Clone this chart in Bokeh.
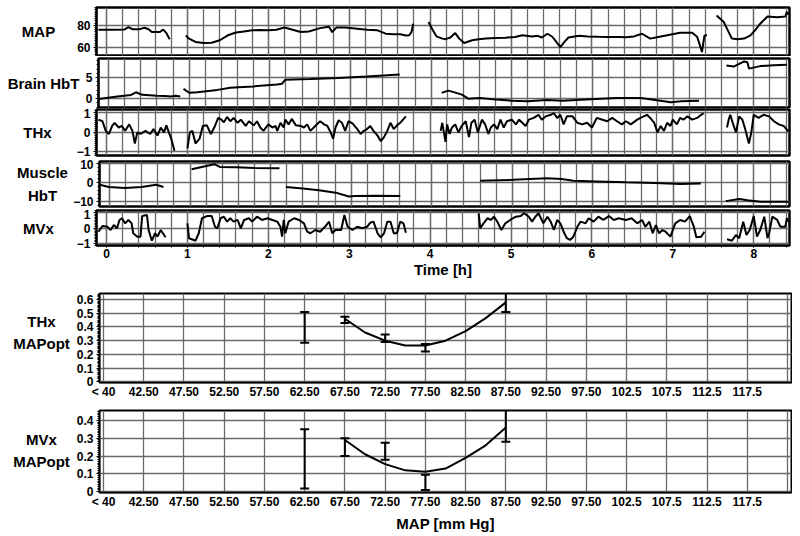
import numpy as np
from bokeh.plotting import figure
from bokeh.layouts import column, row
from bokeh.models import FixedTicker, Range1d
from bokeh.core.properties import value
from bokeh.embed import file_html
from bokeh.resources import INLINE

N = float("nan")

# ---------------- time series (time in h) ----------------
map_t = [-0.10, 0.10, 0.22, 0.27, 0.32, 0.40, 0.47, 0.52, 0.56, 0.66, 0.70, 0.74, 0.78, N,
         0.98, 1.02, 1.10, 1.20, 1.30, 1.40, 1.50, 1.60, 1.70, 1.80, 1.90, 2.00, 2.10, 2.20, 2.30, 2.40,
         2.50, 2.64, 2.75, 2.79, 2.84, 2.95, 3.10, 3.22, 3.35, 3.45, 3.55, 3.63, 3.70, 3.74, 3.77, 3.79, N,
         3.98, 4.03, 4.08, 4.15, 4.19, 4.25, 4.31, 4.36, 4.42, 4.52, 4.60, 4.69, 4.80, 4.93, 5.05, 5.14,
         5.26, 5.33, 5.38, 5.45, 5.51, 5.56, 5.61, 5.66, 5.71, 5.84, 5.95, 6.08, 6.20, 6.35, 6.42, 6.52,
         6.62, 6.72, 6.82, 6.93, 7.09, 7.24, 7.30, 7.33, 7.36, 7.39, 7.42, N,
         7.54, 7.63, 7.73, 7.80, 7.88, 7.96, 8.02, 8.08, 8.17, 8.29, 8.39, 8.41, 8.43]
map_v = [76.1, 76.0, 76.2, 78.5, 76.5, 76.4, 77.8, 76.5, 74.0, 74.0, 76.2, 73.0, 67.5, N,
         70.9, 68.0, 65.0, 64.0, 64.2, 66.5, 71.0, 73.5, 74.5, 75.5, 75.8, 75.5, 76.0, 78.0, 76.0, 74.0,
         74.5, 77.5, 78.8, 73.8, 78.0, 78.0, 77.0, 76.0, 75.5, 72.5, 72.0, 72.0, 70.8, 71.0, 74.0, 81.5, N,
         83.0, 76.0, 70.0, 68.0, 67.5, 69.0, 73.0, 68.0, 64.0, 66.5, 67.5, 68.0, 68.5, 68.8, 69.5, 71.0,
         70.0, 70.5, 69.0, 72.4, 69.7, 65.0, 60.3, 65.0, 69.0, 70.5, 70.0, 69.7, 69.5, 69.5, 69.3, 70.0,
         72.4, 68.0, 69.5, 71.0, 73.4, 73.4, 69.7, 63.0, 55.8, 70.5, 71.5, N,
         89.0, 83.0, 68.0, 67.5, 68.0, 71.0, 76.0, 81.5, 88.0, 87.3, 88.0, 92.0, 90.0]

brain_t = [-0.12, 0.11, 0.28, 0.34, 0.42, 0.60, 0.70, 0.77, 0.83, 0.89, N,
           0.93, 1.00, 1.10, 1.35, 1.51, 1.61, 1.80, 2.09, 2.15, 2.19, 2.50, 2.85, 3.20, 3.61, N,
           4.13, 4.21, 4.27, 4.38, 4.46, 4.60, 4.80, 5.01, 5.20, 5.43, 5.63, 5.80, 6.04, 6.30, 6.52, 6.60,
           6.80, 6.97, 7.10, 7.32, N,
           7.66, 7.75, 7.88, 7.92, 7.94, 8.08, 8.25, 8.41]
brain_v = [-0.07, 0.48, 0.87, 1.5, 0.9, 0.7, 0.6, 0.48, 0.7, 0.5, N,
           2.3, 1.4, 1.5, 2.07, 2.55, 2.7, 2.9, 3.35, 3.5, 4.45, 4.65, 4.9, 5.25, 5.7, N,
           1.35, 1.9, 1.6, 0.95, 0.0, 0.17, -0.2, -0.5, -0.6, -0.35, -0.5, -0.3, -0.07, 0.15, 0.17, 0.15,
           -0.4, -0.85, -0.6, -0.5, N,
           7.86, 7.6, 8.8, 8.6, 7.1, 7.7, 7.9, 8.0]

thx_t = [-0.10, -0.05, -0.01, 0.03, 0.07, 0.10, 0.15, 0.19, 0.23, 0.28, 0.32, 0.35, 0.38, 0.42, 0.48,
         0.54, 0.58, 0.63, 0.67, 0.71, 0.74, 0.77, 0.80, 0.84, N,
         1.00, 1.03, 1.06, 1.10, 1.15, 1.19, 1.24, 1.29, 1.34, 1.38, 1.42, 1.45, 1.49, 1.53, 1.57, 1.62,
         1.66, 1.72, 1.76, 1.82, 1.86, 1.90, 1.94, 2.00, 2.05, 2.09, 2.11, 2.15, 2.19, 2.21, 2.25, 2.29,
         2.34, 2.40, 2.44, 2.48, 2.52, 2.58, 2.64, 2.69, 2.73, 2.77, 2.80, 2.83, 2.87, 2.91, 2.95, 2.99,
         3.04, 3.10, 3.14, 3.18, 3.22, 3.26, 3.30, 3.35, 3.39, 3.43, 3.47, 3.51, 3.55, 3.59, 3.63, 3.70, N,
         4.13, 4.15, 4.19, 4.21, 4.24, 4.27, 4.31, 4.35, 4.39, 4.44, 4.48, 4.51, 4.55, 4.59, 4.64, 4.68,
         4.72, 4.75, 4.79, 4.83, 4.87, 4.91, 4.95, 5.01, 5.06, 5.10, 5.14, 5.18, 5.22, 5.28, 5.34, 5.38,
         5.43, 5.49, 5.53, 5.57, 5.61, 5.65, 5.69, 5.76, 5.82, 5.88, 5.94, 6.00, 6.06, 6.13, 6.19, 6.25,
         6.31, 6.37, 6.42, 6.48, 6.56, 6.60, 6.64, 6.68, 6.72, 6.77, 6.81, 6.85, 6.89, 6.93, 6.97, 7.00,
         7.05, 7.09, 7.13, 7.18, 7.24, 7.30, 7.35, 7.38, N,
         7.67, 7.69, 7.71, 7.74, 7.78, 7.82, 7.86, 7.90, 7.94, 7.97, 8.00, 8.06, 8.12, 8.19, 8.25, 8.31,
         8.37, 8.43]
thx_v = [0.63, 0.55, 0.06, -0.10, 0.31, 0.47, 0.23, 0.31, 0.06, 0.39, 0.06, -0.59, -0.02, -0.10, 0.06,
         -0.10, 0.15, -0.18, 0.23, -0.02, 0.34, -0.02, -0.34, -0.96, N,
         -0.83, -0.02, 0.06, -0.59, -0.34, 0.31, 0.34, -0.10, 0.31, 0.72, 0.63, 0.50, 0.77, 0.55, 0.72, 0.47,
         0.63, 0.31, 0.55, 0.34, 0.55, 0.23, 0.06, 0.39, 0.23, 0.31, 0.06, 0.47, 0.23, 0.63, 0.39, 0.67,
         0.34, 0.31, 0.23, 0.39, 0.06, 0.31, 0.55, 0.39, 0.31, -0.02, -0.34, 0.23, 0.60, 0.47, 0.06, 0.55,
         0.44, 0.15, -0.10, 0.06, 0.15, 0.31, 0.06, -0.18, -0.47, -0.26, 0.06, 0.47, 0.15, 0.34, 0.47, 0.80, N,
         0.06, 0.47, -0.50, 0.39, -0.10, 0.23, 0.39, -0.02, 0.31, 0.55, -0.26, 0.47, 0.63, -0.02, 0.63, 0.39,
         -0.10, 0.23, 0.39, 0.15, 0.63, 0.23, 0.55, 0.63, 0.39, 0.63, 0.47, 0.31, 0.63, 0.72, 0.88, 0.63,
         0.80, 0.88, 0.96, 0.72, 0.88, 0.39, 0.80, 0.80, 0.47, 0.39, 0.47, 0.23, 0.72, 0.63, 0.55, 0.72,
         0.55, 0.39, 0.55, 0.39, 0.63, 0.72, 0.80, 0.88, 0.72, 0.47, -0.02, 0.31, 0.06, 0.47, 0.31, 0.63,
         0.39, 0.72, 0.63, 0.80, 0.63, 0.72, 0.88, 0.96, N,
         0.23, 0.63, 0.88, 0.47, -0.02, 0.80, 0.63, 0.06, -0.59, -0.02, 0.88, 0.72, 0.88, 0.80, 0.55, 0.39,
         0.31, 0.02]

muscle_t = [-0.12, -0.01, 0.19, 0.40, 0.58, 0.67, N,
            1.02, 1.16, 1.30, 1.37, 1.57, 1.80, 2.11, N,
            2.19, 2.40, 2.60, 2.81, 2.97, 3.05, 3.30, 3.61, N,
            4.60, 5.01, 5.43, 5.61, 5.76, 6.04, 6.42, 6.77, 7.09, 7.34, N,
            7.65, 7.82, 7.92, 8.08, 8.43]
muscle_v = [-1.1, -2.3, -2.8, -2.3, -1.1, -2.3, N,
            7.0, 8.3, 9.6, 8.2, 8.0, 7.6, 7.5, N,
            -2.3, -3.1, -3.9, -5.2, -7.2, -6.9, -6.8, -7.0, N,
            1.0, 1.46, 2.3, 1.9, 1.0, 0.65, 0.16, -0.2, -0.65, -0.5, N,
            -9.6, -8.5, -9.2, -9.9, -9.9]

mvx_t = [-0.10, -0.05, 0.01, 0.05, 0.09, 0.13, 0.16, 0.19, 0.23, 0.27, 0.31, 0.33, 0.38, 0.42, 0.44,
         0.50, 0.52, 0.56, 0.60, 0.63, 0.67, 0.73, N,
         1.00, 1.02, 1.10, 1.14, 1.18, 1.24, 1.30, 1.34, 1.37, 1.41, 1.45, 1.49, 1.53, 1.57, 1.62, 1.66,
         1.70, 1.76, 1.80, 1.86, 1.92, 1.99, 2.05, 2.11, 2.15, 2.17, 2.19, 2.21, 2.25, 2.32, 2.38, 2.44,
         2.48, 2.52, 2.58, 2.64, 2.70, 2.75, 2.79, 2.83, 2.90, 2.94, 2.98, 3.04, 3.10, 3.16, 3.22, 3.26,
         3.30, 3.35, 3.39, 3.43, 3.47, 3.51, 3.55, 3.59, 3.63, 3.67, 3.70, N,
         4.60, 4.62, 4.66, 4.71, 4.75, 4.79, 4.83, 4.88, 4.93, 4.99, 5.06, 5.12, 5.16, 5.22, 5.26, 5.30,
         5.34, 5.40, 5.45, 5.49, 5.53, 5.57, 5.61, 5.65, 5.69, 5.73, 5.77, 5.82, 5.86, 5.92, 5.96, 6.02,
         6.08, 6.14, 6.21, 6.27, 6.33, 6.42, 6.49, 6.56, 6.62, 6.66, 6.71, 6.75, 6.79, 6.83, 6.87, 6.91,
         6.97, 7.03, 7.09, 7.15, 7.21, 7.26, 7.29, 7.35, 7.39, N,
         7.67, 7.73, 7.78, 7.82, 7.87, 7.91, 7.95, 8.00, 8.04, 8.08, 8.13, 8.17, 8.19, 8.23, 8.29, 8.33,
         8.39, 8.41, 8.43]
mvx_v = [-0.24, 0.13, 0.08, -0.13, 0.19, -0.02, 0.52, 0.63, 0.30, 0.52, 0.30, -0.34, -0.56, -0.56, 0.77,
         0.84, -0.13, -0.82, -0.34, -0.56, -0.13, -0.60, N,
         0.30, -0.66, -0.82, -0.34, 0.63, 0.77, 0.77, 0.08, -0.02, 0.63, 0.73, 0.41, 0.63, 0.41, 0.52, -0.02,
         0.52, 0.63, 0.41, 0.73, 0.52, 0.63, 0.52, 0.41, 0.08, -0.56, 0.52, -0.34, 0.41, 0.63, 0.52, 0.30,
         -0.24, -0.34, -0.13, -0.24, 0.08, 0.41, -0.34, -0.13, -0.13, 0.84, 0.08, -0.13, 0.08, -0.02, 0.08, 0.34,
         0.41, -0.34, -0.60, -0.34, 0.41, 0.41, -0.34, -0.34, 0.41, 0.30, -0.30, N,
         0.95, -0.02, 0.30, 0.63, 0.52, 0.73, 0.41, -0.13, 0.30, 0.52, 0.73, 0.77, 0.95, 0.73, 0.41, 0.73,
         0.95, 0.30, 0.73, 0.41, -0.13, 0.52, 0.30, -0.24, -0.66, -0.77, -0.56, 0.08, 0.41, 0.30, 0.63, 0.41,
         0.73, 0.52, 0.77, 0.52, 0.63, 0.52, 0.63, 0.30, 0.52, 0.08, 0.41, -0.34, 0.19, -0.34, -0.13, -0.24,
         -0.56, 0.30, 0.52, 0.41, 0.77, 0.08, -0.60, -0.56, -0.24, N,
         -0.73, -0.82, -0.45, -0.66, 0.41, -0.45, -0.13, 0.77, -0.56, -0.13, 0.73, -0.66, -0.34, 0.73, 0.52, 0.08,
         0.08, 0.63, 0.41]

time_ticks = [0, 1, 2, 3, 4, 5, 6, 7, 8]
time_minor = [round(-0.2 + 0.2 * i, 1) for i in range(45)]

# ---------------- MAPopt panels ----------------
map_bins = [37.5, 42.5, 47.5, 52.5, 57.5, 62.5, 67.5, 72.5, 77.5, 82.5, 87.5, 92.5, 97.5, 102.5,
            107.5, 112.5, 117.5, 122.5]
map_bin_labels = ["< 40", "42.50", "47.50", "52.50", "57.50", "62.50", "67.50", "72.50", "77.50",
                  "82.50", "87.50", "92.50", "97.50", "102.5", "107.5", "112.5", "117.5", ""]

err_x = [62.5, 67.5, 72.5, 77.5, 87.5]
thx_err_lo = [0.285, 0.43, 0.29, 0.22, 0.51]
thx_err_hi = [0.51, 0.475, 0.345, 0.275, 0.70]
mvx_err_lo = [0.018, 0.20, 0.18, 0.01, 0.28]
mvx_err_hi = [0.35, 0.30, 0.275, 0.095, 0.50]

fit_x = [67.5, 70.0, 72.5, 75.0, 77.5, 80.0, 82.5, 85.0, 87.5]
thx_fit = [0.46, 0.36, 0.30, 0.265, 0.265, 0.30, 0.37, 0.465, 0.58]
mvx_fit = [0.29, 0.21, 0.155, 0.12, 0.112, 0.13, 0.19, 0.26, 0.36]

thx_opt_ticks = [0, 0.1, 0.2, 0.3, 0.4, 0.5, 0.6]
thx_opt_labels = ["0", "0.1", "0.2", "0.3", "0.4", "0.5", "0.6"]
mvx_opt_ticks = [0, 0.1, 0.2, 0.3, 0.4]
mvx_opt_labels = ["0", "0.1", "0.2", "0.3", "0.4"]

FONT = "Liberation Sans"
GRID = "#6a6a6a"


def mm(a, b, s):
    n = int(round((b - a) / s))
    return [round(a + s * i, 3) for i in range(n + 1)]


def style_axes(p):
    for ax in p.axis:
        ax.major_label_text_font = FONT
        ax.major_label_text_font_style = "bold"
        ax.major_label_text_font_size = "12px"
        ax.major_label_text_color = "black"
        ax.axis_line_color = "black"
        ax.axis_line_width = 1.5
        ax.major_tick_line_color = "black"
        ax.minor_tick_line_color = "black"
        ax.major_tick_in = 0
        ax.major_tick_out = 3
        ax.minor_tick_in = 0
        ax.minor_tick_out = 2
        ax.major_label_standoff = 3
        ax.axis_label_text_font = FONT
        ax.axis_label_text_font_style = "bold"
        ax.axis_label_text_font_size = "15px"
        ax.axis_label_text_color = "black"
        ax.axis_label_standoff = 0


def label_fig(w, height, bt, bb, yr, text, cx, cy):
    q = figure(width=w, height=height, output_backend="svg", toolbar_location=None,
               x_range=Range1d(0, w), y_range=Range1d(*yr),
               x_axis_location=None, y_axis_location=None,
               min_border_left=0, min_border_right=0, min_border_top=bt, min_border_bottom=bb)
    q.grid.visible = False
    q.outline_line_color = None
    q.text(x=[cx], y=[cy], text=[text], text_font=value(FONT), text_font_style="bold",
           text_font_size=value("15px"), text_align="center", text_baseline="middle",
           text_color="black", text_line_height=1.3)
    return q


def top_panel(lw, bl, height, bt, bb, yr, yticks, yminor, tt, vv, label, lcx, show_x=False):
    p = figure(width=bl + 693 + 2, height=height, output_backend="svg", toolbar_location=None,
               x_range=Range1d(-0.124, 8.442), y_range=Range1d(*yr),
               min_border_left=bl, min_border_right=2, min_border_top=bt, min_border_bottom=bb)
    p.outline_line_color = "black"
    p.outline_line_width = 2.5
    xt = FixedTicker(ticks=time_ticks, minor_ticks=time_minor)
    p.xaxis.ticker = xt
    p.xgrid.ticker = xt
    p.xgrid.grid_line_color = GRID
    p.xgrid.grid_line_width = 1.3
    p.xgrid.minor_grid_line_color = GRID
    p.xgrid.minor_grid_line_width = 1.3
    yt = FixedTicker(ticks=yticks, minor_ticks=yminor)
    p.yaxis.ticker = yt
    p.ygrid.ticker = yt
    p.ygrid.grid_line_color = GRID
    p.ygrid.grid_line_width = 1.3
    style_axes(p)
    if not show_x:
        p.xaxis.visible = False
    else:
        p.xaxis.axis_label = "Time [h]"
        p.xaxis.major_tick_out = 2
        p.xaxis.major_label_standoff = 1
    p.line(tt, vv, line_color="black", line_width=2)
    q = label_fig(lw, height, bt, bb, yr, label, lcx, (yr[0] + yr[1]) / 2)
    return row(q, p, spacing=0)


r1 = top_panel(70, 26, 56, 7, 1, (52.7, 96.2), [60, 80], mm(54, 96, 2), map_t, map_v, "MAP", 38)
r2 = top_panel(82, 14, 52, 2, 1, (-2.1, 9.5), [0, 5], mm(-2, 9, 1), brain_t, brain_v, "Brain HbT", 43)
r3 = top_panel(70, 26, 51, 1, 4, (-1.2, 1.15), [-1, 0, 1], mm(-1.2, 1.1, 0.1), thx_t, thx_v, "THx", 37)
r4 = top_panel(70, 26, 50, 2, 3, (-12.4, 11.0), [-10, 0, 10], mm(-12, 10, 2), muscle_t, muscle_v,
               "Muscle\nHbT", 42)
r5 = top_panel(70, 26, 76, 1, 40, (-1.13, 1.13), [-1, 0, 1], mm(-1.1, 1.1, 0.1), mvx_t, mvx_v, "MVx", 38,
               show_x=True)


def opt_panel(height, bt, bb, yr, yticks, ylabels, lo, hi, fit, label, label_y, xlabel=None):
    p = figure(width=27 + 692 + 1, height=height, output_backend="svg", toolbar_location=None,
               x_range=Range1d(37.0, 123.0), y_range=Range1d(*yr),
               min_border_left=27, min_border_right=1, min_border_top=bt, min_border_bottom=bb)
    p.outline_line_color = "black"
    p.outline_line_width = 2
    xt = FixedTicker(ticks=map_bins, minor_ticks=[])
    p.xaxis.ticker = xt
    p.xgrid.ticker = xt
    p.xaxis.major_label_overrides = {k: v for k, v in zip(map_bins, map_bin_labels)}
    p.xgrid.grid_line_color = GRID
    p.xgrid.grid_line_width = 1.3
    yt = FixedTicker(ticks=yticks, minor_ticks=mm(0, yr[1], 0.01))
    p.yaxis.ticker = yt
    p.ygrid.ticker = yt
    p.yaxis.major_label_overrides = {k: v for k, v in zip(yticks, ylabels)}
    p.ygrid.grid_line_color = GRID
    p.ygrid.grid_line_width = 1.3
    style_axes(p)
    p.xaxis.major_tick_out = 0
    p.xaxis.major_label_standoff = 2
    if xlabel:
        p.xaxis.axis_label = xlabel
        p.xaxis.axis_label_standoff = 3
    p.segment(err_x, lo, err_x, hi, line_color="black", line_width=2)
    p.scatter(err_x, lo, marker="dash", size=9, line_color="black", line_width=2)
    p.scatter(err_x, hi, marker="dash", size=9, line_color="black", line_width=2)
    p.line(fit_x, fit, line_color="black", line_width=2)
    q = label_fig(72, height, bt, bb, yr, label, 41, label_y)
    return row(q, p, spacing=0)


r6 = opt_panel(117, 8, 20, (-0.006, 0.645), thx_opt_ticks, thx_opt_labels,
               thx_err_lo, thx_err_hi, thx_fit, "THx\nMAPopt", 0.36)
r7 = opt_panel(132, 8, 40, (-0.004, 0.455), mvx_opt_ticks, mvx_opt_labels,
               mvx_err_lo, mvx_err_hi, mvx_fit, "MVx\nMAPopt", 0.23, xlabel="MAP [mm Hg]")

layout = column(r1, r2, r3, r4, r5, r6, r7, spacing=0)
open("out.html", "w").write(file_html(layout, INLINE))
